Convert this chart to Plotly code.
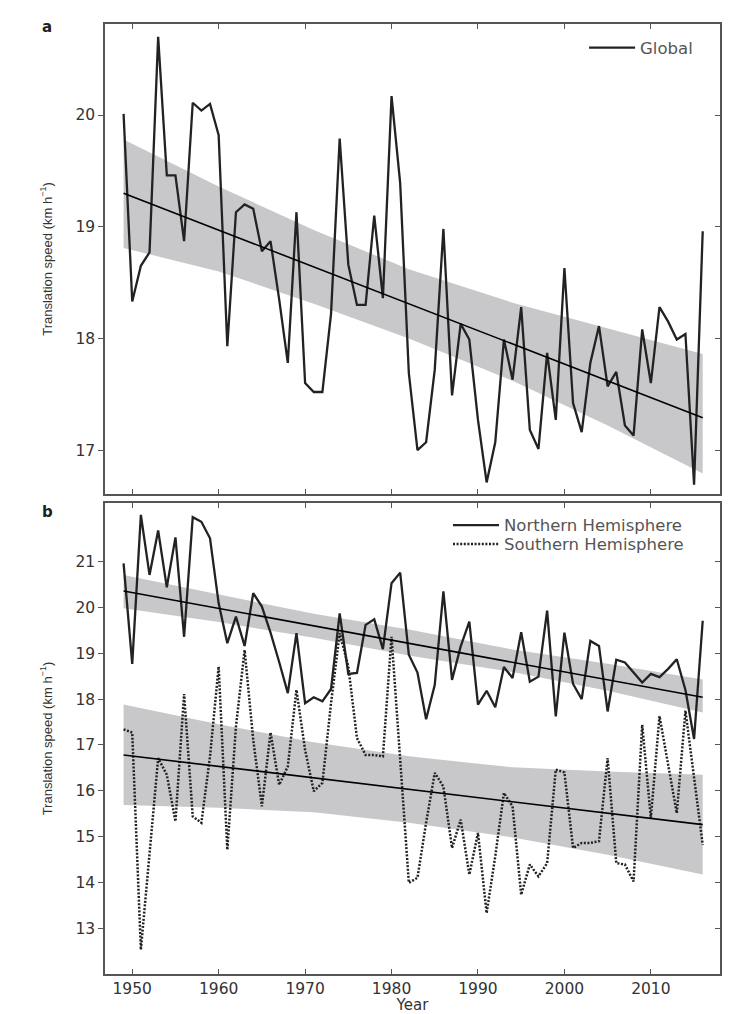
import plotly.graph_objects as go

years = list(range(1949, 2017))

global_speed = [20.01, 18.33, 18.65, 18.77, 20.70, 19.46, 19.46, 18.87, 20.11, 20.04,
                20.10, 19.82, 17.93, 19.13, 19.20, 19.16, 18.78, 18.87, 18.35, 17.78,
                19.13, 17.60, 17.52, 17.52, 18.22, 19.79, 18.66, 18.30, 18.30, 19.10,
                18.36, 20.17, 19.39, 17.69, 17.00, 17.07, 17.72, 18.98, 17.49, 18.13,
                17.99, 17.27, 16.71, 17.07, 17.99, 17.63, 18.28, 17.18, 17.01, 17.87,
                17.27, 18.63, 17.42, 17.16, 17.78, 18.11, 17.57, 17.70, 17.22, 17.13,
                18.08, 17.60, 18.28, 18.15, 17.99, 18.04, 16.69, 18.96]

nh_speed = [20.96, 18.77, 22.02, 20.71, 21.68, 20.44, 21.53, 19.36, 21.97, 21.87,
            21.51, 20.09, 19.22, 19.80, 19.16, 20.31, 20.02, 19.45, 18.81, 18.13,
            19.44, 17.91, 18.04, 17.95, 18.22, 19.87, 18.55, 18.57, 19.62, 19.74,
            19.09, 20.53, 20.76, 18.97, 18.58, 17.56, 18.31, 20.35, 18.42, 19.15,
            19.69, 17.88, 18.18, 17.82, 18.70, 18.46, 19.46, 18.38, 18.49, 19.93,
            17.62, 19.45, 18.33, 18.00, 19.27, 19.16, 17.73, 18.86, 18.80, 18.58,
            18.36, 18.55, 18.48, 18.66, 18.87, 18.20, 17.13, 19.71]

sh_speed = [17.34, 17.27, 12.53, 14.64, 16.71, 16.35, 15.33, 18.11, 15.44, 15.30,
            16.75, 18.71, 14.71, 17.40, 19.07, 17.11, 15.66, 17.27, 16.13, 16.53,
            18.20, 16.89, 15.99, 16.17, 17.91, 19.44, 18.71, 17.15, 16.78, 16.78,
            16.75, 19.36, 16.60, 13.99, 14.10, 15.30, 16.39, 16.09, 14.75, 15.37,
            14.17, 15.08, 13.33, 14.57, 15.95, 15.66, 13.73, 14.39, 14.13, 14.42,
            16.46, 16.40, 14.75, 14.86, 14.86, 14.90, 16.71, 14.42, 14.39, 14.02,
            17.44, 15.40, 17.63, 16.60, 15.51, 17.75, 16.30, 14.82]

trend_years = [1949, 2016]
global_trend = [19.30, 17.29]
nh_trend = [20.36, 18.04]
sh_trend = [16.78, 15.26]

band_years = [1949, 1960, 1971, 1982, 1994, 2005, 2016]
global_upper = [19.78, 19.36, 18.97, 18.62, 18.32, 18.09, 17.86]
global_lower = [18.81, 18.60, 18.31, 18.00, 17.62, 17.22, 16.79]
nh_upper = [20.71, 20.28, 19.86, 19.52, 19.08, 18.77, 18.43]
nh_lower = [19.98, 19.68, 19.34, 18.95, 18.59, 18.18, 17.71]
sh_upper = [17.88, 17.45, 17.06, 16.75, 16.51, 16.42, 16.35]
sh_lower = [15.69, 15.63, 15.53, 15.30, 14.98, 14.60, 14.17]

x_ticks = [1950, 1960, 1970, 1980, 1990, 2000, 2010]
a_ticks = [17, 18, 19, 20]
b_ticks = [13, 14, 15, 16, 17, 18, 19, 20, 21]

BAND = "#c8c8ca"
LINE = "#222222"
AX = "#555555"
TXT = "#333333"
TICKFONT = dict(family="DejaVu Sans", size=15.5, color=TXT)
LEGFONT = dict(family="DejaVu Sans", size=16.5, color="#555555")

fig = go.Figure()


def band(xs, up, lo, xa, ya):
    fig.add_trace(go.Scatter(x=xs, y=up, mode="lines", line=dict(width=0),
                             showlegend=False, hoverinfo="skip", xaxis=xa, yaxis=ya))
    fig.add_trace(go.Scatter(x=xs, y=lo, mode="lines", line=dict(width=0),
                             fill="tonexty", fillcolor=BAND, showlegend=False,
                             hoverinfo="skip", xaxis=xa, yaxis=ya))


# Panel a
band(band_years, global_upper, global_lower, "x", "y")
fig.add_trace(go.Scatter(x=years, y=global_speed, mode="lines", name="Global",
                         line=dict(color=LINE, width=2.3), xaxis="x", yaxis="y",
                         legend="legend"))
fig.add_trace(go.Scatter(x=trend_years, y=global_trend, mode="lines", showlegend=False,
                         line=dict(color="#000000", width=1.6), xaxis="x", yaxis="y"))

# Panel b
band(band_years, nh_upper, nh_lower, "x2", "y2")
band(band_years, sh_upper, sh_lower, "x2", "y2")
fig.add_trace(go.Scatter(x=years, y=nh_speed, mode="lines", name="Northern Hemisphere",
                         line=dict(color=LINE, width=2.3), xaxis="x2", yaxis="y2",
                         legend="legend2"))
fig.add_trace(go.Scatter(x=years, y=sh_speed, mode="lines", name="Southern Hemisphere",
                         line=dict(color=LINE, width=2.5, dash="2px,1.6px"),
                         xaxis="x2", yaxis="y2", legend="legend3"))
fig.add_trace(go.Scatter(x=trend_years, y=nh_trend, mode="lines", showlegend=False,
                         line=dict(color="#000000", width=1.6), xaxis="x2", yaxis="y2"))
fig.add_trace(go.Scatter(x=trend_years, y=sh_trend, mode="lines", showlegend=False,
                         line=dict(color="#000000", width=1.6), xaxis="x2", yaxis="y2"))

xrange = [1946.85, 2018.0]
a_range = [16.607, 20.815]
b_range = [12.0, 22.28]

xcommon = dict(range=xrange, tickvals=x_ticks, ticks="inside", ticklen=5, tickwidth=1.2,
               tickcolor=AX, showline=True, linecolor=AX, linewidth=1.5, mirror="ticks",
               showgrid=False, zeroline=False, tickfont=TICKFONT, automargin=False)
ycommon = dict(ticks="outside", ticklen=5, tickwidth=1.2, tickcolor=AX, showline=True,
               linecolor=AX, linewidth=1.5, mirror=True, showgrid=False, zeroline=False,
               tickfont=TICKFONT, automargin=False)
ytitle = dict(text="Translation speed (km h<sup>−1</sup>)",
              font=dict(family="Liberation Sans", size=13, color=TXT), standoff=20)
rcommon = dict(side="right", ticks="inside", ticklen=5, tickwidth=1.2, tickcolor=AX,
               showticklabels=False, showline=False, showgrid=False, zeroline=False,
               automargin=False)

top_dom = [0.5053, 1.0]
bot_dom = [0.0, 0.4958]

legcommon = dict(xanchor="left", yanchor="top", bgcolor="rgba(0,0,0,0)",
                 itemwidth=46, font=LEGFONT)

# the page body adds an 8 px offset, so the figure is 8 px smaller in each margin
fig.update_layout(
    width=728, height=1006,
    margin=dict(l=97, r=16, t=16, b=40, autoexpand=False),
    paper_bgcolor="white", plot_bgcolor="white",
    xaxis=dict(anchor="y", domain=[0, 1], showticklabels=False, **xcommon),
    yaxis=dict(anchor="x", domain=top_dom, range=a_range, tickvals=a_ticks,
               title=ytitle, **ycommon),
    xaxis2=dict(anchor="y2", domain=[0, 1],
                title=dict(text="Year", font=dict(family="DejaVu Sans", size=15, color=TXT),
                           standoff=6),
                **xcommon),
    yaxis2=dict(anchor="x2", domain=bot_dom, range=b_range, tickvals=b_ticks,
                title=ytitle, **ycommon),
    yaxis3=dict(overlaying="y", anchor="x", range=a_range, tickvals=a_ticks, **rcommon),
    yaxis4=dict(overlaying="y2", anchor="x2", range=b_range, tickvals=b_ticks, **rcommon),
    legend=dict(x=0.779, y=0.9932, **legcommon),
    legend2=dict(x=0.5577, y=0.4907, **legcommon),
    legend3=dict(x=0.5577, y=0.4707, **legcommon),
    annotations=[
        dict(text="<b>a</b>", x=-0.094, y=0.9968, xref="paper", yref="paper",
             xanchor="center", yanchor="middle", showarrow=False,
             font=dict(family="DejaVu Sans", size=15, color="#222222")),
        dict(text="<b>b</b>", x=-0.094, y=0.4863, xref="paper", yref="paper",
             xanchor="center", yanchor="middle", showarrow=False,
             font=dict(family="DejaVu Sans", size=15, color="#222222")),
    ],
)

# invisible helper points so the right-hand tick axes are rendered
fig.add_trace(go.Scatter(x=[years[0]], y=[global_speed[0]], mode="markers",
                         marker=dict(opacity=0), showlegend=False, hoverinfo="skip",
                         xaxis="x", yaxis="y3"))
fig.add_trace(go.Scatter(x=[years[0]], y=[nh_speed[0]], mode="markers",
                         marker=dict(opacity=0), showlegend=False, hoverinfo="skip",
                         xaxis="x2", yaxis="y4"))

fig.write_html("out.html")
